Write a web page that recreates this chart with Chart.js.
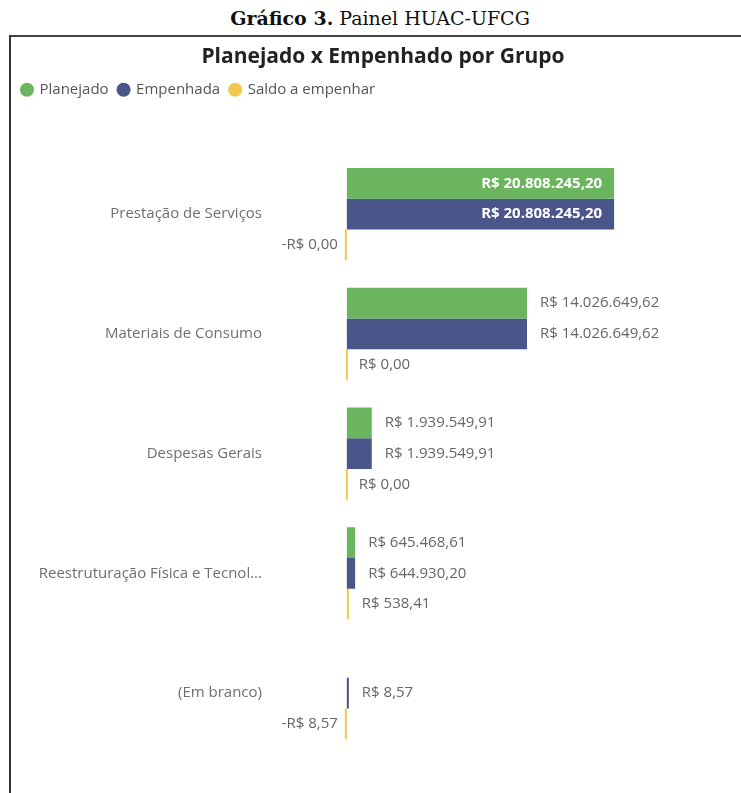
<!DOCTYPE html>
<html>
<head>
<meta charset="utf-8">
<script src="https://cdn.jsdelivr.net/npm/chart.js@4"></script>
<style>
html, body { margin: 0; padding: 0; background: #fff; width: 741px; height: 793px; overflow: hidden; position: relative; }
.caption { position: absolute; top: 7px; left: 0; width: 760px; text-align: center; font-family: "DejaVu Serif", serif; font-size: 19px; color: #111; }
.panel { position: absolute; left: 9px; top: 35px; width: 800px; height: 800px; border-left: 2px solid #333; border-top: 2px solid #444; }
#myChart { position: absolute; left: 12px; top: 38px; }
</style>
</head>
<body>
<div class="caption"><b>Gráfico 3.</b> Painel HUAC-UFCG</div>
<div class="panel"></div>
<canvas id="myChart" width="742" height="755"></canvas>
<script>
const categories = ['Prestação de Serviços', 'Materiais de Consumo', 'Despesas Gerais', 'Reestruturação Física e Tecnol...', '(Em branco)']
const planejado = [20808245.20, 14026649.62, 1939549.91, 645468.61, null]
const empenhada = [20808245.20, 14026649.62, 1939549.91, 644930.20, 8.57]
const saldo = [-0.004, 0, 0, 538.41, -8.57]

// R$ 1.234,56 style
const brl = v => {
    const neg = v < 0
    let [i, d] = Math.abs(v).toFixed(2).split('.')
    i = i.replace(/\B(?=(\d{3})+(?!\d))/g, '.')
    return (neg ? '-' : '') + 'R$ ' + i + ',' + d
}

Chart.defaults.font.family = '"Open Sans", sans-serif'

const barLabels = {
    id: 'barLabels',
    afterDatasetsDraw(chart) {
        const ctx = chart.ctx
        ctx.save()
        ctx.textBaseline = 'middle'
        chart.data.datasets.forEach((ds, i) => {
            chart.getDatasetMeta(i).data.forEach((bar, j) => {
                const v = ds.data[j]
                if (v === null) return
                const {x, y, base} = bar.getProps(['x', 'y', 'base'], true)
                const text = brl(v)
                if (x - base > 220) {
                    // only the longest bars get the label inside
                    ctx.font = 'bold 15px "Open Sans"'
                    ctx.fillStyle = '#fff'
                    ctx.textAlign = 'right'
                    ctx.fillText(text, x - 12, y)
                } else if (v < 0) {
                    ctx.font = '15px "Open Sans"'
                    ctx.fillStyle = '#666'
                    ctx.textAlign = 'right'
                    ctx.fillText(text, x - 7, y)
                } else {
                    ctx.font = '15px "Open Sans"'
                    ctx.fillStyle = '#666'
                    ctx.textAlign = 'left'
                    ctx.fillText(text, x + 13, y)
                }
            })
        })
        ctx.restore()
    }
}

let myChart = document.getElementById('myChart').getContext('2d')
let grupoChart = new Chart(myChart, {
    type: 'bar',
    data: {
        labels: categories,
        datasets: [
            { label: 'Planejado', data: planejado, backgroundColor: '#6bb55f' },
            { label: 'Empenhada', data: empenhada, backgroundColor: '#4a5589' },
            { label: 'Saldo a empenhar', data: saldo, backgroundColor: '#f2c94c' }
        ]
    },
    options: {
        indexAxis: 'y',
        responsive: false,
        animation: false,
        layout: { padding: { left: 0, right: 0, top: 0, bottom: 40 } },
        datasets: {
            bar: { categoryPercentage: 0.77, barPercentage: 1, minBarLength: 2 }
        },
        scales: {
            x: {
                position: 'top',
                min: -300000,
                max: 31700000,
                grid: { display: false, drawTicks: false },
                border: { display: false },
                ticks: { display: false },
                afterFit: s => { s.height = 47 }
            },
            y: {
                grid: { display: false, drawTicks: false },
                border: { display: false },
                ticks: { padding: 81, color: '#6f6f6f', font: { size: 15 } },
                afterFit: s => {
                    s.width = 331
                    s.paddingTop = 0
                    s.paddingBottom = 0
                }
            }
        },
        plugins: {
            title: {
                display: true,
                text: 'Planejado x Empenhado por Grupo',
                color: '#222',
                font: { size: 21, weight: 'bold' },
                padding: { top: 6, bottom: 3 }
            },
            legend: {
                align: 'start',
                labels: {
                    usePointStyle: true,
                    pointStyle: 'circle',
                    boxWidth: 10,
                    boxHeight: 10,
                    color: '#555',
                    font: { size: 15 },
                    padding: 10
                }
            },
            tooltip: { enabled: false }
        }
    },
    plugins: [barLabels]
})
</script>
</body>
</html>
